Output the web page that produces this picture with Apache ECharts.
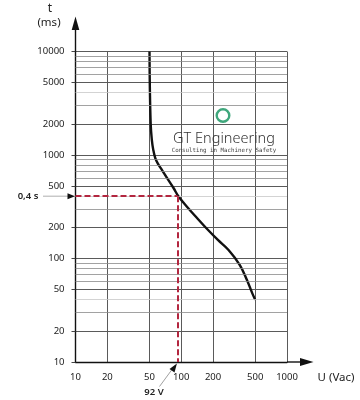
<!DOCTYPE html>
<html><head><meta charset="utf-8">
<script src="https://cdn.jsdelivr.net/npm/echarts@6/dist/echarts.min.js"></script>
<style>html,body{margin:0;padding:0;background:#fff}#c{width:360px;height:400px}</style>
</head><body><div id="c"></div>
<script>
const xTicks = [10, 20, 50, 100, 200, 500, 1000];
const yTicks = [10, 20, 50, 100, 200, 500, 1000, 2000, 5000, 10000];
const yMinor = [30, 60, 70, 80, 90, 300, 600, 700, 800, 900, 3000, 6000, 7000, 8000, 9000];
const yFaint = [40, 400, 4000];
const curveU = [50.1, 50.4, 51.4, 52.7, 54.4, 56.8, 60.3, 65.8, 73.3, 84.5, 94, 116, 141, 172, 222, 280, 357, 418, 470, 500];
const curveT = [10000, 5000, 2000, 1400, 1120, 935, 820, 715, 600, 480, 400, 308, 246, 197, 151, 121, 87, 62, 46, 40];
const refU = 92;
const refT = 400;
const refTLabel = '0,4 s';
const refULabel = '92 V';

const FONT = 'Noto Sans';
const chart = echarts.init(document.getElementById('c'), null, {renderer: 'canvas'});
const curve = curveU.map((u, i) => [u, curveT[i]]);
const plain = v => String(v);

const option = {
  animation: false,
  backgroundColor: '#fff',
  grid: {left: 75.5, right: 73, top: 51.5, bottom: 38, containLabel: false},
  xAxis: {
    type: 'log', logBase: 10, min: 10, max: 1000,
    axisLine: {show: true, lineStyle: {color: '#111', width: 1.4}},
    axisTick: {show: false, customValues: xTicks},
    axisLabel: {customValues: xTicks, formatter: plain, margin: 10, color: '#222', fontSize: 9.5, fontFamily: FONT},
    splitLine: {show: true, lineStyle: {color: '#5a5a5a', width: 1}},
    minorTick: {show: false}, minorSplitLine: {show: false}
  },
  yAxis: {
    type: 'log', logBase: 10, min: 10, max: 10000,
    axisLine: {show: true, lineStyle: {color: '#111', width: 1.4}},
    axisTick: {show: true, customValues: yTicks, length: 4, lineStyle: {color: '#444'}},
    axisLabel: {customValues: yTicks, formatter: plain, margin: 11, color: '#222', fontSize: 9.5, fontFamily: FONT},
    splitLine: {show: true, lineStyle: {color: '#5a5a5a', width: 1}},
    minorTick: {show: false}, minorSplitLine: {show: false}
  },
  series: [
    {
      type: 'line', data: [], z: 1, silent: true,
      markLine: {
        silent: true, symbol: ['none', 'none'], label: {show: false}, animation: false,
        data: yMinor.map(v => ({yAxis: v, lineStyle: {color: '#8a8a8a', width: 0.8, type: 'solid'}}))
          .concat(yFaint.map(v => ({yAxis: v, lineStyle: {color: '#c8c8c8', width: 0.8, type: 'solid'}})))
      }
    },
    {
      type: 'line', data: [], z: 2, silent: true,
      markLine: {
        silent: true, symbol: ['none', 'none'], label: {show: false}, animation: false,
        lineStyle: {color: '#b3263f', width: 2, type: [6, 3]},
        data: [
          [{coord: [xTicks[0], refT]}, {coord: [refU, refT]}],
          [{coord: [refU, refT]}, {coord: [refU, yTicks[0]]}]
        ]
      }
    },
    {
      type: 'line', data: curve, z: 3, showSymbol: false, smooth: 0.4,
      lineStyle: {color: '#111', width: 2.4}
    }
  ]
};
chart.setOption(option);

const bl = chart.convertToPixel({gridIndex: 0}, [xTicks[0], yTicks[0]]);
const tr = chart.convertToPixel({gridIndex: 0}, [xTicks[xTicks.length - 1], yTicks[yTicks.length - 1]]);
const rp = chart.convertToPixel({gridIndex: 0}, [refU, refT]);
const ax = bl[0], ay = bl[1];

chart.setOption({
  graphic: [
    {type: 'line', shape: {x1: ax, y1: tr[1], x2: ax, y2: 28}, style: {stroke: '#111', lineWidth: 1.4}, z: 10},
    {type: 'polygon', shape: {points: [[ax, 16.5], [ax - 3.8, 30], [ax + 3.8, 30]]}, style: {fill: '#111'}, z: 10},
    {type: 'line', shape: {x1: tr[0], y1: ay, x2: 301, y2: ay}, style: {stroke: '#111', lineWidth: 1.4}, z: 10},
    {type: 'polygon', shape: {points: [[313.5, ay], [300, ay - 4], [300, ay + 4]]}, style: {fill: '#111'}, z: 10},
    {type: 'text', x: 50, y: 9, style: {text: 't', fill: '#222', font: '12px ' + FONT, textAlign: 'center', textVerticalAlign: 'middle'}},
    {type: 'text', x: 49, y: 23, style: {text: '(ms)', fill: '#222', font: '11.5px ' + FONT, textAlign: 'center', textVerticalAlign: 'middle'}},
    {type: 'text', x: 336, y: 377.5, style: {text: 'U (Vac)', fill: '#222', font: '11.5px ' + FONT, textAlign: 'center', textVerticalAlign: 'middle'}},
    {type: 'text', x: 28, y: rp[1], style: {text: refTLabel, fill: '#222', font: '600 9.5px ' + FONT, textAlign: 'center', textVerticalAlign: 'middle'}},
    {type: 'line', shape: {x1: 43, y1: rp[1], x2: 68, y2: rp[1]}, style: {stroke: '#999', lineWidth: 0.8}, z: 10},
    {type: 'polygon', shape: {points: [[ax - 0.5, rp[1]], [67.5, rp[1] - 3], [67.5, rp[1] + 3]]}, style: {fill: '#111'}, z: 10},
    {type: 'text', x: 154, y: 392.5, style: {text: refULabel, fill: '#222', font: '600 9.5px ' + FONT, textAlign: 'center', textVerticalAlign: 'middle'}},
    {type: 'line', shape: {x1: 159.5, y1: 386.5, x2: 172, y2: 369.5}, style: {stroke: '#888', lineWidth: 0.8}, z: 10},
    {type: 'polygon', shape: {points: [[rp[0] - 0.5, ay + 1.5], [169.5, ay + 7], [174.5, ay + 10.5]]}, style: {fill: '#111'}, z: 10},
    {type: 'circle', shape: {cx: 223, cy: 115.5, r: 6.3}, style: {fill: 'none', stroke: '#3fa77c', lineWidth: 2.4}, z: 5},
    {type: 'text', x: 224, y: 139, style: {text: 'GT Engineering', fill: '#333', font: '300 14.5px ' + FONT, textAlign: 'center', textVerticalAlign: 'middle'}, z: 5},
    {type: 'text', x: 224, y: 150.5, style: {text: 'Consulting in Machinery Safety', fill: '#444', font: '5.8px "DejaVu Sans Mono"', textAlign: 'center', textVerticalAlign: 'middle'}, z: 5}
  ]
});
</script>
</body></html>
